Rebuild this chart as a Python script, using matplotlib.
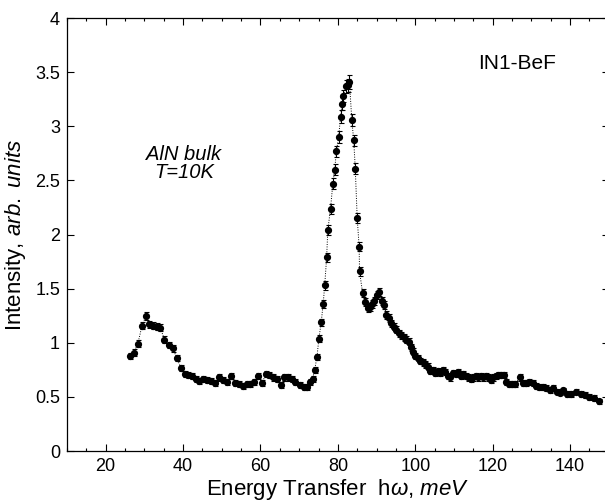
import matplotlib
matplotlib.use("Agg")
import matplotlib.pyplot as plt
from matplotlib.ticker import MultipleLocator
import numpy as np

plt.rcParams['font.family'] = ['Liberation Sans', 'DejaVu Sans']
plt.rcParams['mathtext.fontset'] = 'custom'
plt.rcParams['mathtext.rm'] = 'Liberation Sans'
plt.rcParams['mathtext.it'] = 'Liberation Sans:italic'

# energy transfer (meV) and intensity (arb. units)
energy = [
    26.2, 27.2, 28.3, 29.4, 30.4, 31.3, 32.2, 33.2, 34.1, 35.2, 36.3, 37.3, 38.4, 39.4,
    40.4, 41.4, 42.4, 43.3, 44.1, 45.2, 46.2, 47.3, 48.3, 49.3, 50.3, 51.4, 52.4, 53.3,
    54.4, 55.4, 56.4, 57.4, 58.4, 59.4, 60.4, 61.4, 62.3, 63.3, 64.3, 65.2, 66.2, 67.1,
    68.2, 69.0, 70.1, 71.2, 72.1, 72.9, 73.5, 74.0, 74.6, 75.1, 75.7, 76.2, 76.6, 77.1,
    77.4, 78.1, 78.7, 79.2, 79.6, 80.2, 80.7, 81.1, 81.4, 82.1, 82.6, 83.0, 83.6, 84.1,
    84.5, 85.0, 85.5, 85.6, 86.4, 87.1, 87.7, 88.2, 88.8, 89.4, 90.1, 90.7, 91.4, 92.0,
    92.5, 93.1, 93.8, 94.4, 95.0, 95.7, 96.3, 97.0, 97.6, 98.3, 98.9, 99.4, 100.0, 100.6,
    101.3, 101.9, 102.6, 103.3, 103.9, 104.5, 105.2, 105.8, 106.5, 107.1, 107.8, 108.4,
    109.1, 109.7, 110.4, 111.0, 111.7, 112.3, 113.0, 113.6, 114.3, 114.9, 115.6, 116.2,
    116.9, 117.5, 118.2, 118.9, 119.5, 120.1, 120.8, 121.4, 122.1, 122.9, 123.5, 124.2,
    125.1, 125.9, 127.0, 127.8, 128.7, 129.5, 130.4, 131.2, 132.1, 133.0, 133.9, 134.8,
    135.6, 136.5, 137.3, 138.2, 139.2, 140.3, 141.5, 142.7, 143.9, 145.0, 146.1, 147.4,
]
intensity = [
    0.88, 0.91, 0.99, 1.16, 1.25, 1.17, 1.16, 1.15, 1.14, 1.03, 0.98, 0.95, 0.86, 0.77,
    0.71, 0.70, 0.69, 0.67, 0.65, 0.67, 0.66, 0.65, 0.63, 0.68, 0.66, 0.64, 0.69, 0.63,
    0.62, 0.60, 0.62, 0.62, 0.64, 0.69, 0.63, 0.71, 0.70, 0.68, 0.67, 0.61, 0.68, 0.68,
    0.67, 0.64, 0.61, 0.59, 0.59, 0.64, 0.67, 0.75, 0.87, 1.04, 1.19, 1.36, 1.53, 1.79,
    2.04, 2.24, 2.47, 2.60, 2.77, 2.90, 3.09, 3.21, 3.28, 3.37, 3.38, 3.41, 3.06, 2.87,
    2.61, 2.15, 1.89, 1.66, 1.46, 1.38, 1.32, 1.33, 1.36, 1.39, 1.44, 1.47, 1.39, 1.35,
    1.26, 1.23, 1.18, 1.15, 1.12, 1.09, 1.07, 1.05, 1.03, 1.01, 0.96, 0.92, 0.88, 0.86,
    0.83, 0.82, 0.80, 0.78, 0.74, 0.75, 0.72, 0.74, 0.72, 0.75, 0.73, 0.69,
    0.68, 0.72, 0.71, 0.73, 0.69, 0.71, 0.69, 0.68, 0.67, 0.68, 0.69, 0.68,
    0.69, 0.68, 0.69, 0.68, 0.66, 0.68, 0.69, 0.70, 0.70, 0.70, 0.64, 0.62,
    0.62, 0.62, 0.68, 0.63, 0.63, 0.64, 0.63, 0.60, 0.59, 0.59, 0.58, 0.56,
    0.58, 0.55, 0.54, 0.56, 0.53, 0.53, 0.55, 0.53, 0.52, 0.50, 0.49, 0.46,
]
energy = np.array(energy)
intensity = np.array(intensity)
# statistical error bars grow a little with intensity
errors = 0.02 + 0.012 * intensity

fig = plt.figure(figsize=(6.05, 5.04), dpi=100)
ax = fig.add_axes([0.1107, 0.105, 0.8955, 0.859])

ax.plot(energy, intensity, color='black', linestyle=(0, (1, 1.5)), linewidth=0.7)
ax.errorbar(energy, intensity, yerr=errors, fmt='o', color='black', ms=4.2,
            elinewidth=0.8, capsize=1.8, capthick=0.8)

ax.set_xlim(10, 150)
ax.set_ylim(0, 4)
ax.xaxis.set_major_locator(MultipleLocator(20))
ax.xaxis.set_minor_locator(MultipleLocator(5))
ax.set_yticks([0, 0.5, 1, 1.5, 2, 2.5, 3, 3.5, 4])
ax.set_yticklabels(['0', '0.5', '1', '1.5', '2', '2.5', '3', '3.5', '4'])

ax.tick_params(which='both', direction='in', top=True, right=True, labelsize=13)
ax.tick_params(which='major', length=5, width=0.8, pad=5)
ax.tick_params(which='minor', length=2.5, width=0.8)
for s in ax.spines.values():
    s.set_linewidth(0.9)

ax.set_xlabel(r'Energy Transfer  h$\omega$,$\ \mathit{meV}$', fontsize=16, labelpad=1.5)
ax.set_ylabel(r'Intensity, $\mathit{arb.\ units}$', fontsize=16, labelpad=5)

ax.text(40.2, 2.66, 'AlN bulk\nT=10K', style='italic', fontsize=14.5,
        ha='center', va='center', linespacing=0.95)
ax.text(126.2, 3.58, 'IN1-BeF', fontsize=15, ha='center', va='center')

fig.savefig('out.png', dpi=100)
